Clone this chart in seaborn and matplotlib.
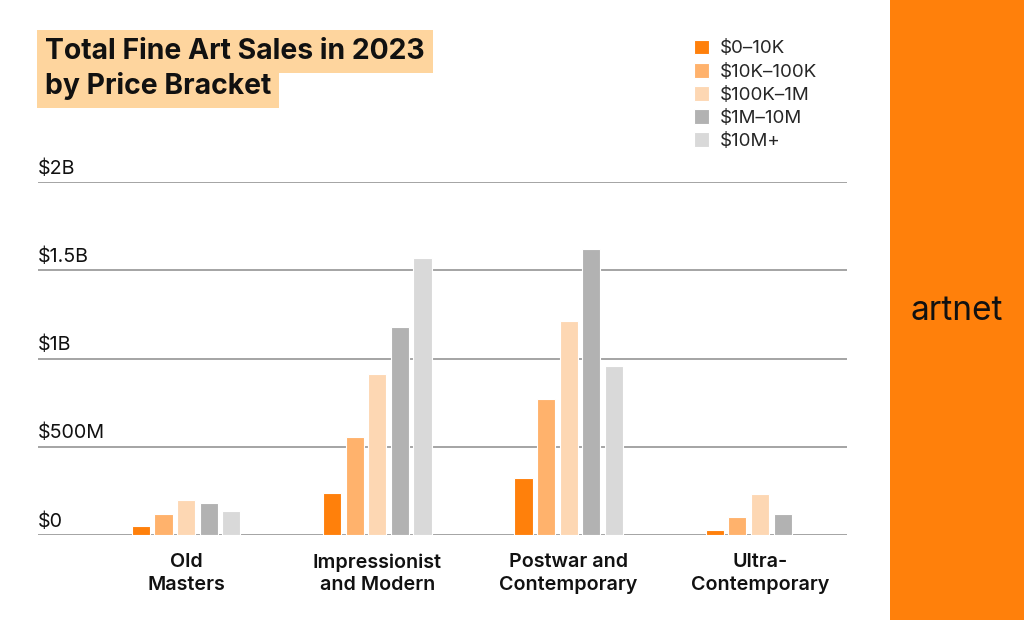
import pandas as pd
import seaborn as sns
import matplotlib.pyplot as plt
from matplotlib.patches import Rectangle
import matplotlib.transforms as mtransforms

# values in $
categories = ["Old\nMasters", "Impressionist\nand Modern", "Postwar and\nContemporary", "Ultra-\nContemporary"]
brackets = ["$0–10K", "$10K–100K", "$100K–1M", "$1M–10M", "$10M+"]
sales_0_10k = [53e6, 236e6, 323e6, 26e6]
sales_10k_100k = [121e6, 555e6, 768e6, 100e6]
sales_100k_1m = [200e6, 910e6, 1212e6, 234e6]
sales_1m_10m = [183e6, 1176e6, 1620e6, 119e6]
sales_10m_plus = [138e6, 1569e6, 957e6, None]

y_ticks = [0, 500e6, 1000e6, 1500e6, 2000e6]
y_labels = ["$0", "$500M", "$1B", "$1.5B", "$2B"]

colors = ["#FF800B", "#FFB26C", "#FDD7B3", "#B2B2B2", "#D9D9D9"]

rows = []
for b, vals in zip(brackets, [sales_0_10k, sales_10k_100k, sales_100k_1m, sales_1m_10m, sales_10m_plus]):
    for c, v in zip(categories, vals):
        rows.append({"category": c, "bracket": b, "sales": v})
df = pd.DataFrame(rows)

sns.set_style("white")
plt.rcParams['font.family'] = ['Inter', 'DejaVu Sans']

fig = plt.figure(figsize=(10.24, 6.2), dpi=100)
W, H = 1024, 620
ax = fig.add_axes([38 / W, 85 / H, (847 - 38) / W, (535 - 182) / H])

sns.barplot(data=df, x="category", y="sales", hue="bracket", hue_order=brackets,
            palette=colors, saturation=1, width=0.59, gap=0.2, ax=ax, legend=True,
            edgecolor="white", linewidth=0.8, zorder=3)

ax.set_xlim(-0.774, 3.455)
ax.set_ylim(0, 2e9)
ax.set_yticks(y_ticks)
ax.set_yticklabels([])
ax.tick_params(axis="y", length=0)
ax.grid(axis="y", color="#8C8C8C", linewidth=1.1, zorder=0)
ax.grid(axis="x", visible=False)
for s in ax.spines.values():
    s.set_visible(False)
ax.set_xlabel("")
ax.set_ylabel("")
ax.tick_params(axis="x", length=0, pad=13)
for lab in ax.get_xticklabels():
    lab.set_fontsize(14.2)
    lab.set_fontweight("semibold")
    lab.set_linespacing(1.33)
    lab.set_color("#111111")

# y labels sit on top of the grid lines
trans = mtransforms.blended_transform_factory(ax.transAxes, ax.transData)
shift = mtransforms.ScaledTranslation(0, 6 / 72, fig.dpi_scale_trans)
for t, l in zip(y_ticks, y_labels):
    ax.text(0, t, l, transform=trans + shift, ha="left", va="baseline", fontsize=14.2,
            color="#111111")

# legend
handles, labels = ax.get_legend_handles_labels()
ax.get_legend().remove()
fig.legend(handles, labels, loc="upper left", bbox_to_anchor=(686 / W, 1 - 32 / H),
           frameon=False, fontsize=13.5, handlelength=0.85, handleheight=0.85,
           handletextpad=0.55, labelspacing=0.28, borderaxespad=0)

# title with highlight
box = dict(facecolor="#FED59E", edgecolor="none", pad=6)
fig.text(45 / W, 1 - 59 / H, "Total Fine Art Sales in 2023", fontsize=20.4, fontweight="bold",
         va="baseline", ha="left", bbox=box, color="#111111")
fig.text(45 / W, 1 - 94 / H, "by Price Bracket", fontsize=20.4, fontweight="bold",
         va="baseline", ha="left", bbox=box, color="#111111")

# orange side panel with logo
fig.patches.append(Rectangle((890 / W, 0), (W - 890) / W, 1, transform=fig.transFigure,
                             facecolor="#FF800B", edgecolor="none", zorder=0))
fig.text(957 / W, 1 - 311 / H, "artnet", fontsize=24, ha="center", va="center", color="#111111")

fig.savefig("out.png", dpi=100)
